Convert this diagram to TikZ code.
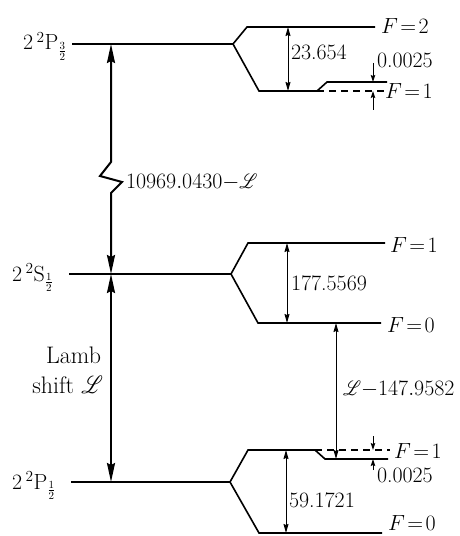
\RequirePackage{fix-cm}
\documentclass[tikz,border=0pt]{standalone}
\usepackage{amsmath}
\usepackage{mathrsfs}
\usetikzlibrary{arrows.meta}
\newcommand{\lamb}{\scalebox{0.82}[1]{$\mathscr{L}$}}
\begin{document}
\begin{tikzpicture}[x=1bp,y=-1bp,
  lvl/.style={line width=1.6bp},
  dashlvl/.style={line width=1.4bp, dash pattern=on 7bp off 5bp},
  bigarr/.style={line width=2bp, line join=miter,
    {Stealth[length=19bp,width=8bp,inset=2bp]}-{Stealth[length=19bp,width=8bp,inset=2bp]}},
  thinarr/.style={line width=1bp,
    {Stealth[length=9bp,width=5bp,inset=1bp]}-{Stealth[length=9bp,width=5bp,inset=1bp]}},
  tinyarr/.style={line width=1bp, -{Stealth[length=7bp,width=4.5bp,inset=1bp]}},
  lab/.style={font=\fontsize{22}{26}\selectfont, inner sep=0pt, outer sep=0pt},
  biglab/.style={font=\fontsize{24}{28}\selectfont, inner sep=0pt, outer sep=0pt}
]
\useasboundingbox (0,0) rectangle (460,536);
\clip (0,0) rectangle (460,536);

% ---------- 2 2P3/2 ----------
\coordinate (pa0) at (72,44);  \coordinate (pa1) at (233,44);
\coordinate (pa2) at (247,27); \coordinate (pa3) at (375,27);
\coordinate (pa4) at (259,91); \coordinate (pa5) at (317,91);
\coordinate (pa6) at (327,82); \coordinate (pa7) at (387,82);
\coordinate (pa8) at (387,91);
\draw[lvl] (pa0) -- (pa1) -- (pa2) -- (pa3);
\draw[lvl] (pa1) -- (pa4) -- (pa5) -- (pa6) -- (pa7);
\draw[dashlvl] (pa5) -- (pa8);

\node[lab, anchor=base west] (lpa) at (23,50) {$2\,{}^2\mathrm{P}_{\frac{3}{2}}$};
\node[lab, anchor=base west] (fa2) at (381,34) {$F\!=\!2$};
\node[lab, anchor=base west] (fa1) at (385,99) {$F\!=\!1$};

\coordinate (ha1) at (288,27); \coordinate (ha2) at (288,91);
\draw[thinarr] (ha1) -- (ha2);
\node[lab, anchor=base west] (va) at (291,60) {23.654};

\coordinate (sa1) at (373,63); \coordinate (sa2) at (373,82);
\coordinate (sa3) at (373,110); \coordinate (sa4) at (373,91);
\draw[tinyarr] (sa1) -- (sa2);
\draw[tinyarr] (sa3) -- (sa4);
\node[lab, anchor=base west] (da) at (377,68) {0.0025};

% ---------- 2 2S1/2 ----------
\coordinate (sb0) at (69,274);  \coordinate (sb1) at (231,274);
\coordinate (sb2) at (248,243); \coordinate (sb3) at (385,243);
\coordinate (sb4) at (258,323); \coordinate (sb5) at (381,323);
\draw[lvl] (sb0) -- (sb1) -- (sb2) -- (sb3);
\draw[lvl] (sb1) -- (sb4) -- (sb5);

\node[lab, anchor=base west] (lsb) at (12,281) {$2\,{}^2\mathrm{S}_{\frac{1}{2}}$};
\node[lab, anchor=base west] (fb1) at (390,252) {$F\!=\!1$};
\node[lab, anchor=base west] (fb0) at (387,332) {$F\!=\!0$};

\coordinate (hb1) at (287,243); \coordinate (hb2) at (287,323);
\draw[thinarr] (hb1) -- (hb2);
\node[lab, anchor=base west] (vb) at (291,290) {177.5569};

% ---------- 2 2P1/2 ----------
\coordinate (pc0) at (71,482);  \coordinate (pc1) at (230,482);
\coordinate (pc2) at (248,450); \coordinate (pc3) at (315,450);
\coordinate (pc4) at (325,459); \coordinate (pc5) at (388,459);
\coordinate (pc6) at (390,450);
\coordinate (pc7) at (259,533); \coordinate (pc8) at (382,533);
\draw[lvl] (pc0) -- (pc1) -- (pc2) -- (pc3) -- (pc4) -- (pc5);
\draw[dashlvl] (pc3) -- (pc6);
\draw[lvl] (pc1) -- (pc7) -- (pc8);

\node[lab, anchor=base west] (lpc) at (12,489) {$2\,{}^2\mathrm{P}_{\frac{1}{2}}$};
\node[lab, anchor=base west] (fc1) at (394,458) {$F\!=\!1$};
\node[lab, anchor=base west] (fc0) at (388,530) {$F\!=\!0$};

\coordinate (hc1) at (286,450); \coordinate (hc2) at (286,533);
\draw[thinarr] (hc1) -- (hc2);
\node[lab, anchor=base west] (vc) at (289,507) {59.1721};

\coordinate (sc1) at (373,436); \coordinate (sc2) at (373,450);
\coordinate (sc3) at (373,470); \coordinate (sc4) at (373,459);
\draw[tinyarr] (sc1) -- (sc2);
\draw[tinyarr] (sc3) -- (sc4);
\node[lab, anchor=base west] (dc) at (377,482) {0.0025};

% ---------- transitions ----------
\coordinate (m1) at (111,44);
\coordinate (z1) at (111,162); \coordinate (z2) at (100,176);
\coordinate (z3) at (122,182); \coordinate (z4) at (111,193);
\coordinate (m2) at (111,274);
\draw[bigarr] (m1) -- (z1) -- (z2) -- (z3) -- (z4) -- (m2);
\node[lab, anchor=base west] (gap) at (126,189) {$10969.0430{-}$\lamb};

\coordinate (m3) at (111,482);
\draw[bigarr] (m2) -- (m3);
\node[biglab, anchor=base east] (lamb1) at (101,363) {Lamb};
\node[biglab, anchor=base east] (lamb2) at (103,393) {shift \lamb};

\coordinate (t1) at (336,323); \coordinate (t2) at (336,459);
\draw[thinarr] (t1) -- (t2);
\node[lab, anchor=base west] (tl) at (343,395) {\lamb${-}147.9582$};
\end{tikzpicture}
\end{document}
